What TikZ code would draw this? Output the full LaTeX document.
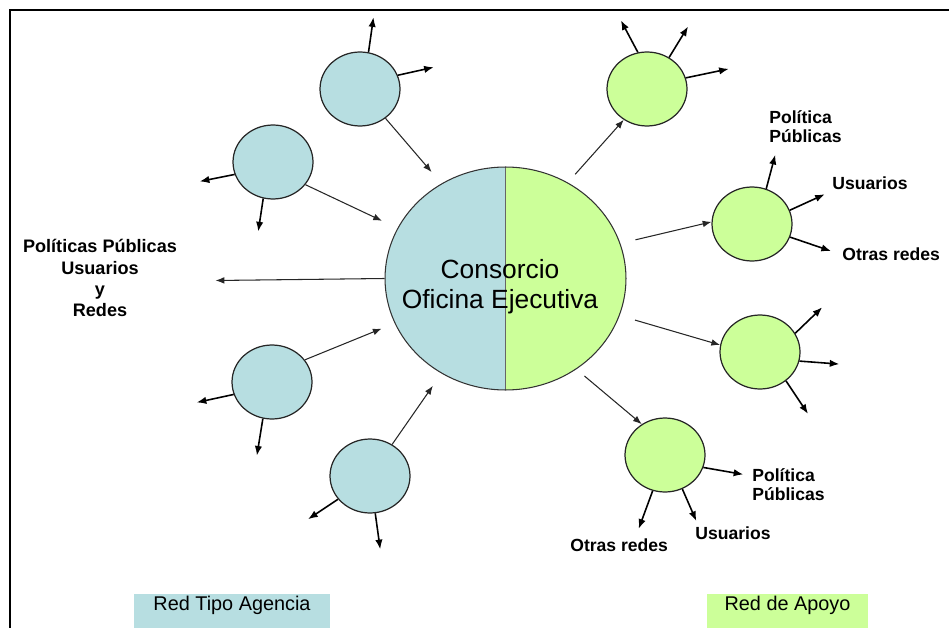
\documentclass[tikz,border=0pt]{standalone}
\usepackage{fontspec}
\setmainfont{Liberation Sans}
\usetikzlibrary{shapes.geometric,arrows.meta}

\definecolor{agencia}{RGB}{183,222,225}
\definecolor{apoyo}{RGB}{204,255,153}

\tikzset{
  nodo/.style={ellipse,draw=black!85,line width=0.7pt,minimum width=1.6cm,
    minimum height=1.48cm,inner sep=0pt},
  flecha/.style={-{Latex[length=5.5pt,width=4.2pt]},line width=0.9pt},
  enlace/.style={-{Latex[length=5pt,width=3.8pt]},line width=0.6pt,black!85},
  etiq/.style={font=\fontsize{10}{11}\selectfont\bfseries,inner sep=0pt,align=left},
  leyenda/.style={font=\fontsize{11.3}{13}\selectfont,anchor=north,inner ysep=0.1cm,
    text height=0.22cm,text depth=0.3cm}
}

\begin{document}
\begin{tikzpicture}[x=0.02cm,y=-0.02cm]
\useasboundingbox (0,0) rectangle (949,628);
\draw[line width=1.1pt] (10,628) -- (10,10) -- (949,10);

% centro
\node[ellipse,minimum width=4.82cm,minimum height=4.46cm,inner sep=0pt,
  draw=black!80,line width=0.6pt,
  path picture={
    \fill[agencia] (path picture bounding box.south west) rectangle (path picture bounding box.north);
    \fill[apoyo] (path picture bounding box.south) rectangle (path picture bounding box.north east);
    \draw[black!60,line width=0.5pt] (path picture bounding box.north) -- (path picture bounding box.south);
  }] (cons) at (505.5,278.5) {};
\node[align=center,font=\fontsize{15}{17}\selectfont,inner sep=0pt] (texto) at (500,287)
  {Consorcio\\Oficina Ejecutiva};

% red tipo agencia
\node[nodo,fill=agencia] (b1) at (360,89) {};
\node[nodo,fill=agencia] (b2) at (273,162) {};
\node[nodo,fill=agencia] (b3) at (272,382) {};
\node[nodo,fill=agencia] (b4) at (370,476) {};

% red de apoyo
\node[nodo,fill=apoyo] (g1) at (647,89) {};
\node[nodo,fill=apoyo] (g2) at (752,224) {};
\node[nodo,fill=apoyo] (g3) at (760,352) {};
\node[nodo,fill=apoyo] (g4) at (665,455) {};

\foreach \n/\a/\dx/\dy in {b1/77/5/-35, b1/20/36/-8, b2/198/-35/7, b2/255/-5/33,
    b3/198/-37/8, b3/256/-6/37, b4/216/-30/20, b4/278/5/36,
    g1/104/-17/-32, g1/55/19/-31, g1/16/43/-9, g2/68/9/-34, g2/20/35/-16, g2/341/41/14,
    g3/28/27/-26, g3/347/40/3, g3/312/22/33, g4/342/40/7, g4/251/-14/38, g4/297/14/32}
  \draw[flecha] (\n.\a) -- ++(\dx,\dy);

\draw[enlace,shorten >=0.3cm] (b1.311) -- (cons.124);
\draw[enlace,shorten >=0.34cm] (b2.325) -- (cons.155);
\draw[enlace,shorten >=0.28cm] (b3.34) -- (cons.202);
\draw[enlace,shorten >=0.3cm] (b4.55) -- (cons.236);
\draw[enlace] (cons.180) -- ++(-169,2);
\draw[enlace,shorten <=0.22cm] (cons.57) -- (g1.233);
\draw[enlace,shorten <=0.31cm] (cons.17) -- (g2.177);
\draw[enlace,shorten <=0.32cm] (cons.342) -- (g3.170);
\draw[enlace,shorten <=0.21cm] (cons.308) -- (g4.127);

% textos
\node[etiq,align=center,font=\fontsize{10.3}{12}\selectfont\bfseries] (izq) at (100,278)
  {Políticas Públicas\\Usuarios\\y\\Redes};
\node[etiq,anchor=north west] (pol1) at (769,110) {Política\\Públicas};
\node[etiq,anchor=west] (usu1) at (832,183) {Usuarios};
\node[etiq,anchor=west] (otr1) at (842,254) {Otras redes};
\node[etiq,anchor=north west] (pol2) at (752,468) {Política\\Públicas};
\node[etiq,anchor=west] (usu2) at (695,533) {Usuarios};
\node[etiq,anchor=west] (otr2) at (570,545) {Otras redes};

\node[leyenda,fill=agencia,minimum width=3.92cm] (leyag) at (232,594) {Red Tipo Agencia};
\node[leyenda,fill=apoyo,minimum width=3.22cm] (leyap) at (787.5,594) {Red de Apoyo};
\end{tikzpicture}
\end{document}
